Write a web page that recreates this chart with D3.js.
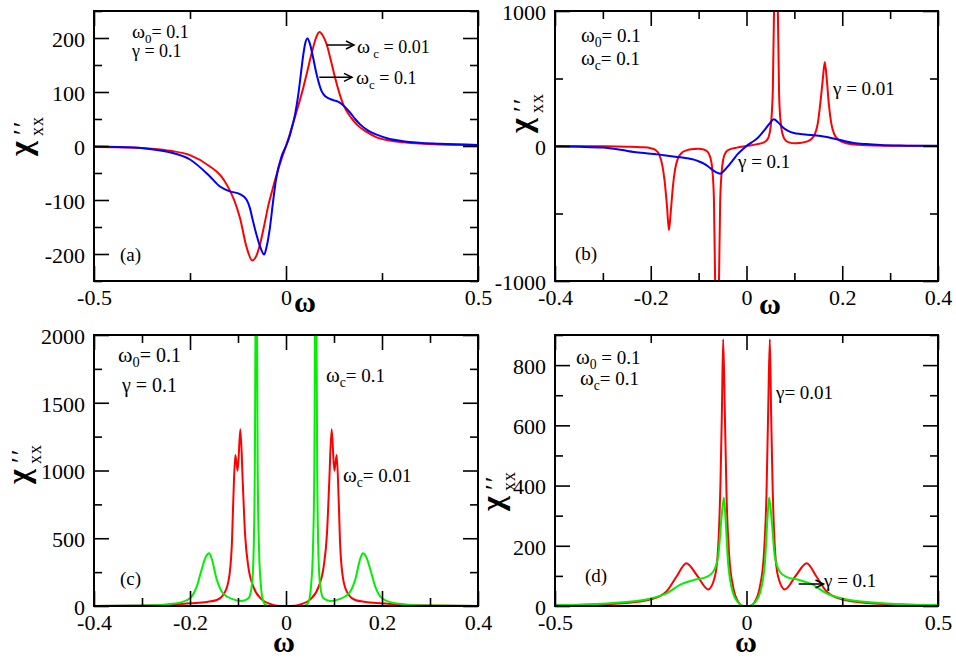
<!DOCTYPE html>
<html lang="en">
<head>
<meta charset="utf-8">
<title>chi xx panels</title>
<script src="https://cdn.jsdelivr.net/npm/d3@7"></script>
<style>
  body { margin: 0; background: #fff; }
  svg text { font-family: "Liberation Serif", "DejaVu Serif", "Times New Roman", Times, serif; fill: #000; }
</style>
</head>
<body>
<script>
// ---- panel (a): omega0 = 0.1, gamma = 0.1 ----
var aRedW   = [-0.5,-0.4,-0.35,-0.3,-0.25,-0.2,-0.17,-0.154,-0.135,-0.12,-0.102,-0.088,-0.077,-0.068,-0.057,-0.046,-0.035,-0.024,-0.012,0,0.012,0.024,0.035,0.045,0.056,0.067,0.078,0.087,0.097,0.106,0.117,0.128,0.149,0.17,0.184,0.21,0.236,0.27,0.305,0.4,0.5];
var aRedChi = [-2,-3,-5,-9,-17,-37,-55,-72,-100,-133,-189,-212,-203,-183,-148,-110,-80,-52,-25,0,27,55,82,108,140,172,200,211,203,188,158,126,77,52,40,26,16,10,7,3,2];
var aBlueW   = [-0.5,-0.4,-0.35,-0.3,-0.25,-0.2,-0.172,-0.146,-0.12,-0.103,-0.094,-0.086,-0.077,-0.068,-0.057,-0.05,-0.042,-0.034,-0.026,-0.011,0,0.008,0.015,0.024,0.032,0.039,0.045,0.05,0.056,0.062,0.069,0.08,0.093,0.104,0.115,0.128,0.141,0.154,0.167,0.18,0.193,0.215,0.236,0.27,0.305,0.4,0.5];
var aBlueChi = [-1,-3,-6,-12,-25,-55,-75,-84,-89,-99,-115,-139,-164,-185,-201,-185,-152,-105,-62,-18,0,15,33,60,95,135,169,190,199,190,169,132,101,91,87,84,80,72,62,50,40,28,21,13,9,4,2];

// ---- panel (b): omega0 = 0.1, omegac = 0.1 ----
var bRedW   = [-0.4,-0.3,-0.25,-0.22,-0.2,-0.19,-0.182,-0.176,-0.171,-0.166,-0.162,-0.158,-0.154,-0.149,-0.143,-0.135,-0.125,-0.11,-0.1,-0.09,-0.082,-0.076,-0.071,-0.068,-0.0655,-0.0615,-0.0575,-0.055,-0.052,-0.048,-0.043,-0.035,-0.02,0,0.02,0.035,0.043,0.048,0.052,0.055,0.0575,0.0615,0.0655,0.068,0.071,0.076,0.082,0.09,0.1,0.11,0.125,0.135,0.143,0.149,0.154,0.159,0.1635,0.168,0.172,0.177,0.183,0.191,0.2,0.22,0.25,0.3,0.4];
var bRedChi = [0,-2,-5,-9,-16,-30,-65,-140,-260,-450,-624,-480,-310,-170,-90,-50,-32,-22,-20,-25,-40,-80,-190,-400,-1000,-2600,-1000,-420,-200,-90,-45,-25,-12,0,12,25,45,90,200,420,1000,2600,1000,400,190,80,40,25,20,22,32,50,90,170,310,480,622,480,310,170,90,50,30,12,5,2,0];
var bBlueW   = [-0.4,-0.35,-0.3,-0.26,-0.235,-0.21,-0.187,-0.165,-0.145,-0.125,-0.11,-0.099,-0.089,-0.08,-0.072,-0.063,-0.055,-0.046,-0.037,-0.028,-0.019,-0.009,0,0.011,0.022,0.031,0.04,0.049,0.057,0.066,0.075,0.087,0.099,0.113,0.127,0.141,0.155,0.168,0.182,0.2,0.224,0.25,0.28,0.32,0.4];
var bBlueChi = [-3,-6,-12,-30,-44,-54,-62,-72,-81,-90,-101,-115,-131,-152,-175,-196,-205,-180,-143,-103,-62,-28,0,27,55,90,129,170,198,175,141,112,96,89,84,79,74,66,55,40,22,14,8,4,1];

// ---- panel (c): omega0 = 0.1, gamma = 0.1 ----
var cRedW   = [-0.4,-0.25,-0.2,-0.165,-0.144,-0.131,-0.12,-0.113,-0.11,-0.1056,-0.1007,-0.0951,-0.09,-0.0854,-0.0785,-0.068,-0.0507,-0.033,-0.019,0,0.019,0.033,0.0507,0.068,0.0785,0.0854,0.09,0.0951,0.1007,0.1056,0.11,0.113,0.12,0.131,0.144,0.165,0.2,0.25,0.4];
var cRedChi = [0,5,20,30,44,81,180,438,758,1114,999,1304,905,536,290,143,49,15,2,0,2,15,49,143,290,536,905,1304,999,1114,758,438,180,81,44,30,20,5,0];
var cGreenW   = [-0.4,-0.3,-0.25,-0.221,-0.2,-0.186,-0.176,-0.167,-0.16,-0.155,-0.144,-0.131,-0.11,-0.092,-0.078,-0.0715,-0.068,-0.065,-0.062,-0.059,-0.056,-0.052,-0.048,-0.043,-0.035,0,0.035,0.043,0.048,0.052,0.056,0.059,0.062,0.065,0.068,0.0715,0.078,0.092,0.11,0.131,0.144,0.155,0.16,0.167,0.176,0.186,0.2,0.221,0.25,0.3,0.4];
var cGreenChi = [0,3,12,25,57,143,266,364,389,352,192,93,49,37,57,143,330,1000,3000,1000,400,140,40,10,0,0,0,10,40,140,400,1000,3000,1000,330,143,57,37,49,93,192,352,389,364,266,143,57,25,12,3,0];

// ---- panel (d): omega0 = 0.1, omegac = 0.1 ----
var dRedW   = [-0.5,-0.4,-0.3,-0.25,-0.209,-0.183,-0.157,-0.13,-0.1,-0.0826,-0.0739,-0.0678,-0.0643,-0.0609,-0.0565,-0.052,-0.045,-0.035,-0.0217,-0.0087,0,0.0087,0.0217,0.035,0.045,0.052,0.0565,0.0609,0.0643,0.0678,0.0739,0.0826,0.1,0.13,0.157,0.183,0.209,0.25,0.3,0.4,0.5];
var dRedChi = [2,5,12,22,48,97,142,103,55,97,197,418,640,886,640,363,164,64,14,0,0,0,14,64,164,363,640,886,640,418,197,97,55,103,142,97,48,22,12,5,2];
var dGreenW   = [-0.5,-0.4,-0.35,-0.278,-0.25,-0.209,-0.174,-0.139,-0.104,-0.087,-0.074,-0.065,-0.059,-0.054,-0.048,-0.035,-0.0217,-0.0087,0,0.0087,0.0217,0.035,0.048,0.054,0.059,0.065,0.074,0.087,0.104,0.139,0.174,0.209,0.25,0.278,0.35,0.4,0.5];
var dGreenChi = [3,6,10,18,25,42,70,86,97,114,164,297,360,275,142,42,11,0,0,0,11,42,142,275,360,297,164,114,97,86,70,42,25,18,10,6,3];

// ---- ticks ----
var aXMajor = [-0.5, 0, 0.5],            aXMinor = [-0.25, 0.25];
var aYMajor = [-200, -100, 0, 100, 200], aYMinor = [-250, -150, -50, 50, 150, 250];
var bXMajor = [-0.4, -0.2, 0, 0.2, 0.4], bXMinor = [-0.3, -0.1, 0.1, 0.3];
var bYMajor = [-1000, 0, 1000],          bYMinor = [-500, 500];
var cXMajor = [-0.4, -0.2, 0, 0.2, 0.4], cXMinor = [-0.3, -0.1, 0.1, 0.3];
var cYMajor = [0, 500, 1000, 1500, 2000], cYMinor = [250, 750, 1250, 1750];
var dXMajor = [-0.5, 0, 0.5],            dXMinor = [-0.25, 0.25];
var dYMajor = [0, 200, 400, 600, 800],   dYMinor = [100, 300, 500, 700, 900];

var RED = "#ff0000", BLUE = "#0000ff", GREEN = "#00f000";
var SERIF = "'Liberation Serif', 'DejaVu Serif', 'Times New Roman', Times, serif";

var panels = [
  { x0: 94,  x1: 478, y0: 11,  y1: 281, xd: [-0.5, 0.5], yd: [-250, 250],
    xMaj: aXMajor, xMin: aXMinor, yMaj: aYMajor, yMin: aYMinor,
    series: [[aRedW, aRedChi, RED], [aBlueW, aBlueChi, BLUE]],
    wLab: [305, 312], chi: [31, 156] },
  { x0: 555, x1: 938, y0: 11,  y1: 281, xd: [-0.4, 0.4], yd: [-1000, 1000],
    xMaj: bXMajor, xMin: bXMinor, yMaj: bYMajor, yMin: bYMinor,
    series: [[bRedW, bRedChi, RED], [bBlueW, bBlueChi, BLUE]],
    wLab: [770, 314], chi: [531, 133] },
  { x0: 94,  x1: 478, y0: 335, y1: 606, xd: [-0.4, 0.4], yd: [0, 2000],
    xMaj: cXMajor, xMin: cXMinor, yMaj: cYMajor, yMin: cYMinor,
    series: [[cRedW, cRedChi, RED], [cGreenW, cGreenChi, GREEN]],
    wLab: [284, 652], chi: [29, 484] },
  { x0: 555, x1: 938, y0: 335, y1: 606, xd: [-0.5, 0.5], yd: [0, 900],
    xMaj: dXMajor, xMin: dXMinor, yMaj: dYMajor, yMin: dYMinor,
    series: [[dRedW, dRedChi, RED], [dGreenW, dGreenChi, GREEN]],
    wLab: [746, 652], chi: [503, 511] }
];

var svg = d3.select("body").append("svg")
  .attr("width", 956).attr("height", 659);

var fmt = function(d) { return String(d); };

panels.forEach(function(p, i) {
  var x = d3.scaleLinear().domain(p.xd).range([p.x0, p.x1]);
  var y = d3.scaleLinear().domain(p.yd).range([p.y1, p.y0]);

  svg.append("clipPath").attr("id", "clip" + i)
    .append("rect")
    .attr("x", p.x0).attr("y", p.y0)
    .attr("width", p.x1 - p.x0).attr("height", p.y1 - p.y0);

  var line = d3.line()
    .x(function(d) { return x(d[0]); })
    .y(function(d) { return y(d[1]); })
    .curve(d3.curveMonotoneX);

  p.series.forEach(function(s) {
    var pts = s[0].map(function(w, k) { return [w, s[1][k]]; });
    svg.append("path")
      .datum(pts)
      .attr("clip-path", "url(#clip" + i + ")")
      .attr("fill", "none")
      .attr("stroke", s[2])
      .attr("stroke-width", 2)
      .attr("stroke-linejoin", "round")
      .attr("d", line);
  });

  // axes: major ticks 15px inward, minor 8px inward, on all four sides
  function axis(gen, tx, ty, vals, size, labels) {
    var a = gen.tickValues(vals).tickSizeInner(-size).tickSizeOuter(0)
      .tickFormat(labels ? fmt : "");
    var g = svg.append("g")
      .attr("transform", "translate(" + tx + "," + ty + ")")
      .attr("font-family", SERIF)
      .call(a);
    g.select(".domain").remove();
    g.selectAll("line").attr("stroke", "#000").attr("stroke-width", 1.6);
    g.selectAll("text").attr("font-size", 22).style("font-family", SERIF);
    return g;
  }
  axis(d3.axisBottom(x).tickPadding(8), 0, p.y1, p.xMaj, 15, true);
  axis(d3.axisBottom(x), 0, p.y1, p.xMin, 8, false);
  axis(d3.axisTop(x), 0, p.y0, p.xMaj, 15, false);
  axis(d3.axisTop(x), 0, p.y0, p.xMin, 8, false);
  var gl = axis(d3.axisLeft(y).tickPadding(9), p.x0, 0, p.yMaj, 15, true);
  gl.selectAll("text").attr("dy", "0.38em");
  axis(d3.axisLeft(y), p.x0, 0, p.yMin, 8, false);
  axis(d3.axisRight(y), p.x1, 0, p.yMaj, 15, false);
  axis(d3.axisRight(y), p.x1, 0, p.yMin, 8, false);

  svg.append("rect")
    .attr("x", p.x0).attr("y", p.y0)
    .attr("width", p.x1 - p.x0).attr("height", p.y1 - p.y0)
    .attr("fill", "none").attr("stroke", "#000").attr("stroke-width", 2);

  // x axis title
  svg.append("text")
    .attr("x", p.wLab[0]).attr("y", p.wLab[1])
    .attr("text-anchor", "middle")
    .attr("font-size", 30).attr("font-weight", "bold")
    .text("ω");

  // y axis title chi''_xx, rotated
  var gc = svg.append("g")
    .attr("transform", "translate(" + p.chi[0] + "," + p.chi[1] + ") rotate(-90)");
  gc.append("text").attr("x", 0).attr("y", 0)
    .attr("font-size", 32).attr("font-weight", "bold").text("χ");
  gc.append("text").attr("x", 21).attr("y", 0)
    .attr("font-size", 26).attr("letter-spacing", 2).text("′′");
  gc.append("text").attr("x", 20).attr("y", 12)
    .attr("font-size", 18).attr("letter-spacing", 1).text("xx");
});

// annotations: [x, baseline, size, parts]; part = [text, "sub"|""]
var notes = [
  [132, 37.5, 18, [["ω", ""], ["0", "sub"], ["= 0.1", ""]]],
  [132, 57,   18, [["γ  = 0.1", ""]]],
  [120, 261,  19, [["(a)", ""]]],
  [357, 53,   18, [["ω", ""], [" c", "sub"], [" = 0.01", ""]]],
  [356, 83.5, 18, [["ω", ""], ["c", "sub"], [" = 0.1", ""]]],
  [581, 42,   19, [["ω", ""], ["0", "sub"], ["= 0.1", ""]]],
  [581, 65,   19, [["ω", ""], ["c", "sub"], ["= 0.1", ""]]],
  [575, 260,  19, [["(b)", ""]]],
  [833, 95,   19, [["γ = 0.01", ""]]],
  [738, 168,  19, [["γ = 0.1", ""]]],
  [118, 361.5, 20, [["ω", ""], ["0", "sub"], ["= 0.1", ""]]],
  [122, 391.5, 20, [["γ  = 0.1", ""]]],
  [326, 381.5, 19, [["ω", ""], ["c", "sub"], ["= 0.1", ""]]],
  [343, 482,  19, [["ω", ""], ["c", "sub"], ["= 0.01", ""]]],
  [120, 585,  19, [["(c)", ""]]],
  [576, 364,  19, [["ω", ""], ["0", "sub"], [" = 0.1", ""]]],
  [580, 385,  19, [["ω", ""], ["c", "sub"], ["= 0.1", ""]]],
  [776, 399,  19, [["γ= 0.01", ""]]],
  [585, 581.5, 19, [["(d)", ""]]],
  [824, 587,  19, [["γ = 0.1", ""]]]
];

notes.forEach(function(n) {
  var t = svg.append("text").attr("x", n[0]).attr("y", n[1]).attr("font-size", n[2]);
  var shift = 0;
  n[3].forEach(function(pt) {
    var want = pt[1] === "sub" ? 5 : 0;
    var sp = t.append("tspan").attr("dy", want - shift).text(pt[0]);
    if (pt[1] === "sub") sp.attr("font-size", n[2] * 0.72);
    if (pt[0] === "ω") sp.attr("font-size", n[2] * 1.1);
    shift = want;
  });
});

// arrows pointing from curves to their labels
var arrows = [
  [326.7, 45, 354, 45],
  [319.3, 77.3, 352, 77.3],
  [798.7, 584, 823.5, 584]
];
arrows.forEach(function(a) {
  svg.append("line")
    .attr("x1", a[0]).attr("y1", a[1]).attr("x2", a[2]).attr("y2", a[3])
    .attr("stroke", "#000").attr("stroke-width", 1.5);
  svg.append("path")
    .attr("d", "M" + (a[2] - 8) + "," + (a[3] - 4) + "L" + a[2] + "," + a[3] + "L" + (a[2] - 8) + "," + (a[3] + 4))
    .attr("fill", "none").attr("stroke", "#000").attr("stroke-width", 1.5);
});
</script>
</body>
</html>
